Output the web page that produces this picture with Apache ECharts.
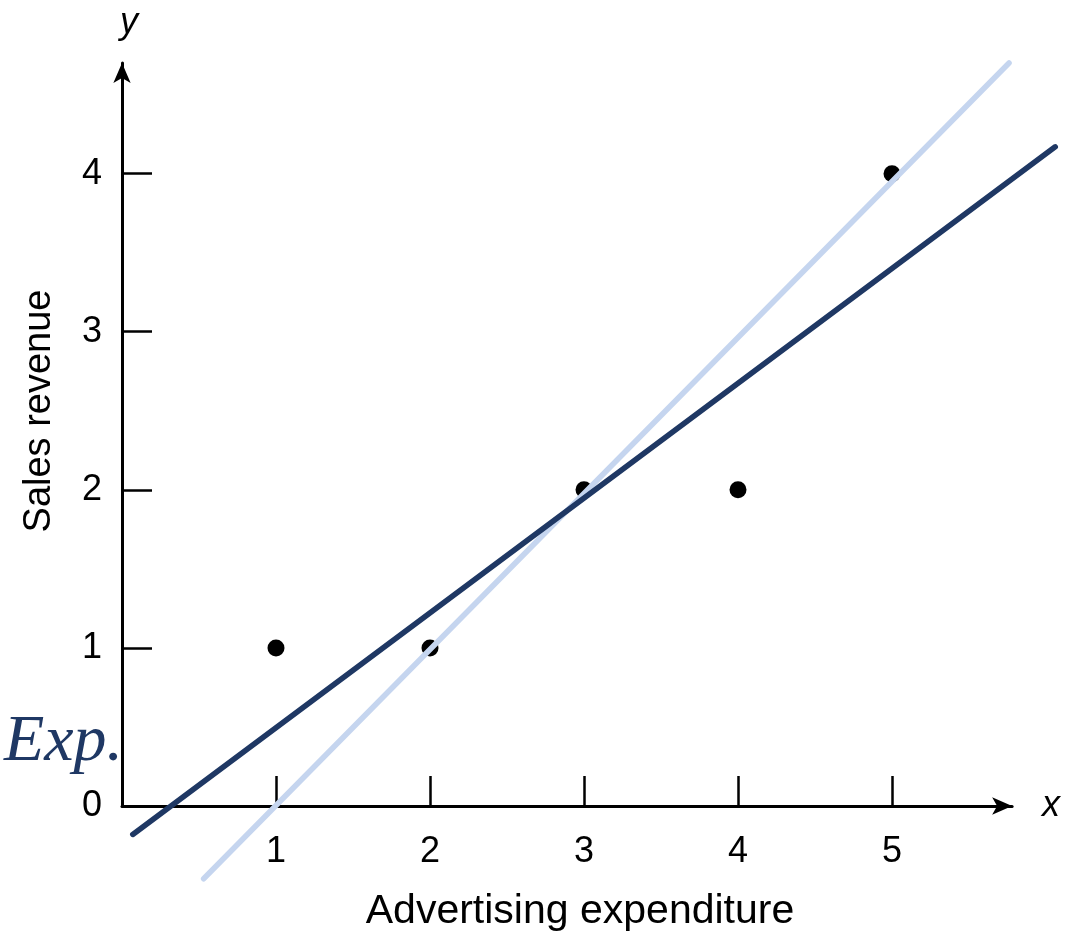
<!DOCTYPE html>
<html>
<head>
<meta charset="utf-8">
<title>Sales revenue vs advertising expenditure</title>
<script src="https://cdn.jsdelivr.net/npm/echarts@6/dist/echarts.min.js"></script>
<style>
  html, body { margin: 0; padding: 0; background: #ffffff; }
  #chart { width: 1080px; height: 935px; }
</style>
</head>
<body>
<div id="chart"></div>
<script>
// Observed points: advertising expenditure (x) vs sales revenue (y)
const xValues = [1, 2, 3, 4, 5];
const yValues = [1, 1, 2, 2, 4];

// Two candidate straight lines, given by their drawn end points [x, y]
const fittedLine = [[0.07, -0.18], [6.06, 4.17]];
const steepLine = [[0.53, -0.46], [5.76, 4.70]];

// Tick labels
const xTicks = [1, 2, 3, 4, 5];
const yTickMarks = [1, 2, 3, 4];
const yTickLabels = [0, 1, 2, 3, 4];

const points = xValues.map((x, i) => [x, yValues[i]]);

const INK = '#000000';
const NAVY = '#1F3864';
const PALE = '#C5D5EF';
const SANS = '"Liberation Sans", Arial, Helvetica, sans-serif';

// Shared pixel scale: both grids use the same units per pixel
const LEFT = 122, TOP = 63, BOTTOM = 129;
const X_MAX = 5.78, Y_MAX = 4.70;
const PX_PER_X = 154;
const LINE_X_MAX = 6.1;

const chart = echarts.init(document.getElementById('chart'), null, { renderer: 'canvas' });

const hiddenAxis = {
  show: false,
  axisLine: { show: false },
  axisTick: { show: false },
  axisLabel: { show: false },
  splitLine: { show: false }
};

chart.setOption({
  backgroundColor: '#ffffff',
  animation: false,
  grid: [
    { left: LEFT, width: X_MAX * PX_PER_X, top: TOP, bottom: BOTTOM, containLabel: false },
    { left: LEFT, width: LINE_X_MAX * PX_PER_X, top: TOP, bottom: BOTTOM, containLabel: false }
  ],
  xAxis: [
    {
      type: 'value',
      gridIndex: 0,
      min: 0,
      max: X_MAX,
      interval: 1,
      name: 'x',
      nameLocation: 'end',
      nameGap: 30,
      nameTextStyle: { fontFamily: SANS, fontStyle: 'italic', fontSize: 36, color: INK, verticalAlign: 'middle' },
      axisLine: {
        show: true,
        onZero: false,
        symbol: ['none', 'arrow'],
        symbolSize: [13, 20],
        lineStyle: { color: INK, width: 3 }
      },
      axisTick: {
        show: true,
        inside: true,
        length: 30,
        customValues: xTicks,
        lineStyle: { color: INK, width: 2.5 }
      },
      axisLabel: {
        show: true,
        margin: 28,
        customValues: xTicks,
        fontFamily: SANS,
        fontSize: 36,
        color: INK
      },
      splitLine: { show: false }
    },
    Object.assign({ type: 'value', gridIndex: 1, min: 0, max: LINE_X_MAX }, hiddenAxis)
  ],
  yAxis: [
    {
      type: 'value',
      gridIndex: 0,
      min: 0,
      max: Y_MAX,
      interval: 1,
      name: 'y',
      nameLocation: 'end',
      nameGap: 22,
      nameTextStyle: { fontFamily: SANS, fontStyle: 'italic', fontSize: 36, color: INK, padding: [0, 0, 0, 14] },
      axisLine: {
        show: true,
        onZero: false,
        symbol: ['none', 'arrow'],
        symbolSize: [13, 20],
        lineStyle: { color: INK, width: 3 }
      },
      axisTick: {
        show: true,
        inside: true,
        length: 30,
        customValues: yTickMarks,
        lineStyle: { color: INK, width: 2.5 }
      },
      axisLabel: {
        show: true,
        margin: 20,
        customValues: yTickLabels,
        fontFamily: SANS,
        fontSize: 36,
        color: INK
      },
      splitLine: { show: false }
    },
    Object.assign({ type: 'value', gridIndex: 1, min: 0, max: Y_MAX }, hiddenAxis)
  ],
  graphic: [
    {
      type: 'text',
      x: 40,
      y: 411,
      rotation: Math.PI / 2,
      style: {
        text: 'Sales revenue',
        font: '38px ' + SANS,
        fill: INK,
        align: 'center',
        verticalAlign: 'middle'
      }
    },
    {
      type: 'text',
      x: 580,
      y: 912,
      style: {
        text: 'Advertising expenditure',
        font: '41px ' + SANS,
        fill: INK,
        align: 'center',
        verticalAlign: 'middle'
      }
    },
    {
      type: 'text',
      x: 4,
      y: 743,
      style: {
        text: 'Exp.',
        font: 'italic 66px "Liberation Serif", "Times New Roman", serif',
        fill: NAVY,
        align: 'left',
        verticalAlign: 'middle'
      }
    }
  ],
  series: [
    {
      name: 'Observations',
      type: 'scatter',
      xAxisIndex: 0,
      yAxisIndex: 0,
      data: points,
      symbol: 'circle',
      symbolSize: 17,
      itemStyle: { color: INK, opacity: 1 },
      z: 2
    },
    {
      name: 'Steep line',
      type: 'line',
      xAxisIndex: 1,
      yAxisIndex: 1,
      data: steepLine,
      clip: false,
      showSymbol: false,
      symbol: 'none',
      lineStyle: { color: PALE, width: 5.5, cap: 'round' },
      z: 3
    },
    {
      name: 'Fitted line',
      type: 'line',
      xAxisIndex: 1,
      yAxisIndex: 1,
      data: fittedLine,
      clip: false,
      showSymbol: false,
      symbol: 'none',
      lineStyle: { color: NAVY, width: 5.5, cap: 'round' },
      z: 4
    }
  ]
});
</script>
</body>
</html>
